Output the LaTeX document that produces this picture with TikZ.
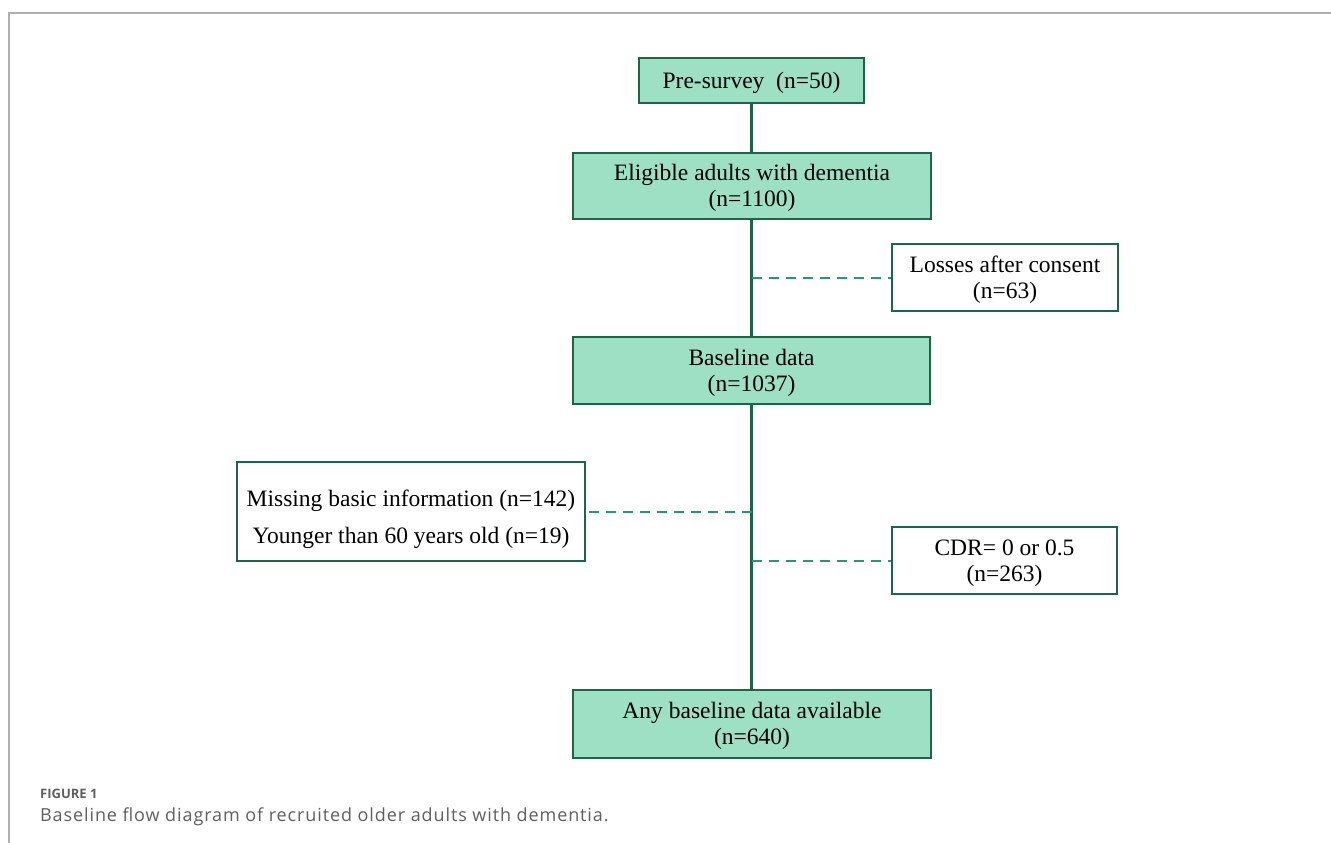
\documentclass[tikz,border=0pt]{standalone}
\usepackage{fontspec}
\setmainfont{Liberation Serif}
\newfontfamily\capfont{Open Sans}
\newcommand\tstrut[1]{\rule{0pt}{#1}}
\definecolor{boxfill}{RGB}{158,224,196}
\definecolor{boxdraw}{RGB}{30,100,72}
\definecolor{dashcol}{RGB}{46,150,110}
\definecolor{framecol}{RGB}{175,175,175}
\definecolor{capcol}{RGB}{95,95,95}
\tikzset{
  mainbox/.style={draw=boxdraw, line width=2pt, fill=boxfill, align=center, inner sep=0pt,
    font=\fontsize{23.5}{26}\selectfont},
  sidebox/.style={draw=boxdraw, line width=2pt, fill=white, align=center, inner sep=0pt,
    font=\fontsize{23.5}{26}\selectfont},
  mainline/.style={draw=boxdraw, line width=2.2pt},
  sideline/.style={draw=dashcol, line width=2pt, dash pattern=on 10pt off 7pt},
}
\begin{document}
\begin{tikzpicture}[x=1pt,y=-1pt]
\useasboundingbox (0,0) rectangle (1331,843);
% frame
\draw[framecol, line width=1.5pt] (9,843) -- (9,13) -- (1331,13);
% nodes
\node[mainbox, minimum width=225pt, minimum height=45pt] (pre) at (751.5,80.5) {\tstrut{20.5pt}Pre-survey\ \ (n=50)};
\node[mainbox, minimum width=358pt, minimum height=66pt] (elig) at (752,186) {\tstrut{20.5pt}Eligible adults with dementia\\(n=1100)};
\node[sidebox, minimum width=226pt, minimum height=67pt] (loss) at (1005,277.5) {\tstrut{20.5pt}Losses after consent\\(n=63)};
\node[mainbox, minimum width=357pt, minimum height=67pt] (base) at (751.5,370.5) {\tstrut{20.5pt}Baseline data\\(n=1037)};
\node[sidebox, minimum width=348pt, minimum height=99pt, font=\fontsize{23.5}{37}\selectfont] (miss) at (411,511.5) {\tstrut{33pt}Missing basic information (n=142)\\Younger than 60 years old (n=19)};
\node[sidebox, minimum width=225pt, minimum height=67pt] (cdr) at (1004.5,560.5) {\tstrut{20.5pt}CDR= 0 or 0.5\\(n=263)};
\node[mainbox, minimum width=358pt, minimum height=68pt] (any) at (752,724) {\tstrut{20.5pt}Any baseline data available\\(n=640)};
% main connectors
\draw[mainline] (pre.south) -- (pre.south |- elig.north);
\draw[mainline] (elig.south -| pre.south) -- (base.north -| pre.south);
\draw[mainline] (base.south -| pre.south) -- (any.north -| pre.south);
% side connectors
\coordinate (jl) at (pre.south |- loss.west);
\coordinate (jm) at (pre.south |- miss.east);
\coordinate (jc) at (pre.south |- cdr.west);
\draw[sideline] (jl) -- (loss.west);
\draw[sideline] (jm) -- (miss.east);
\draw[sideline] (jc) -- (cdr.west);
% caption
\node[anchor=base west, inner sep=0pt, text=capcol, font=\capfont\fontsize{13}{15}\selectfont\bfseries] (figlab) at (40,798) {FIGURE 1};
\node[anchor=base west, inner sep=0pt, text=capcol, font=\capfont\fontsize{18}{21}\selectfont\addfontfeature{LetterSpace=5}] (cap) at (40,821) {Baseline flow diagram of recruited older adults with dementia.};
\end{tikzpicture}
\end{document}
